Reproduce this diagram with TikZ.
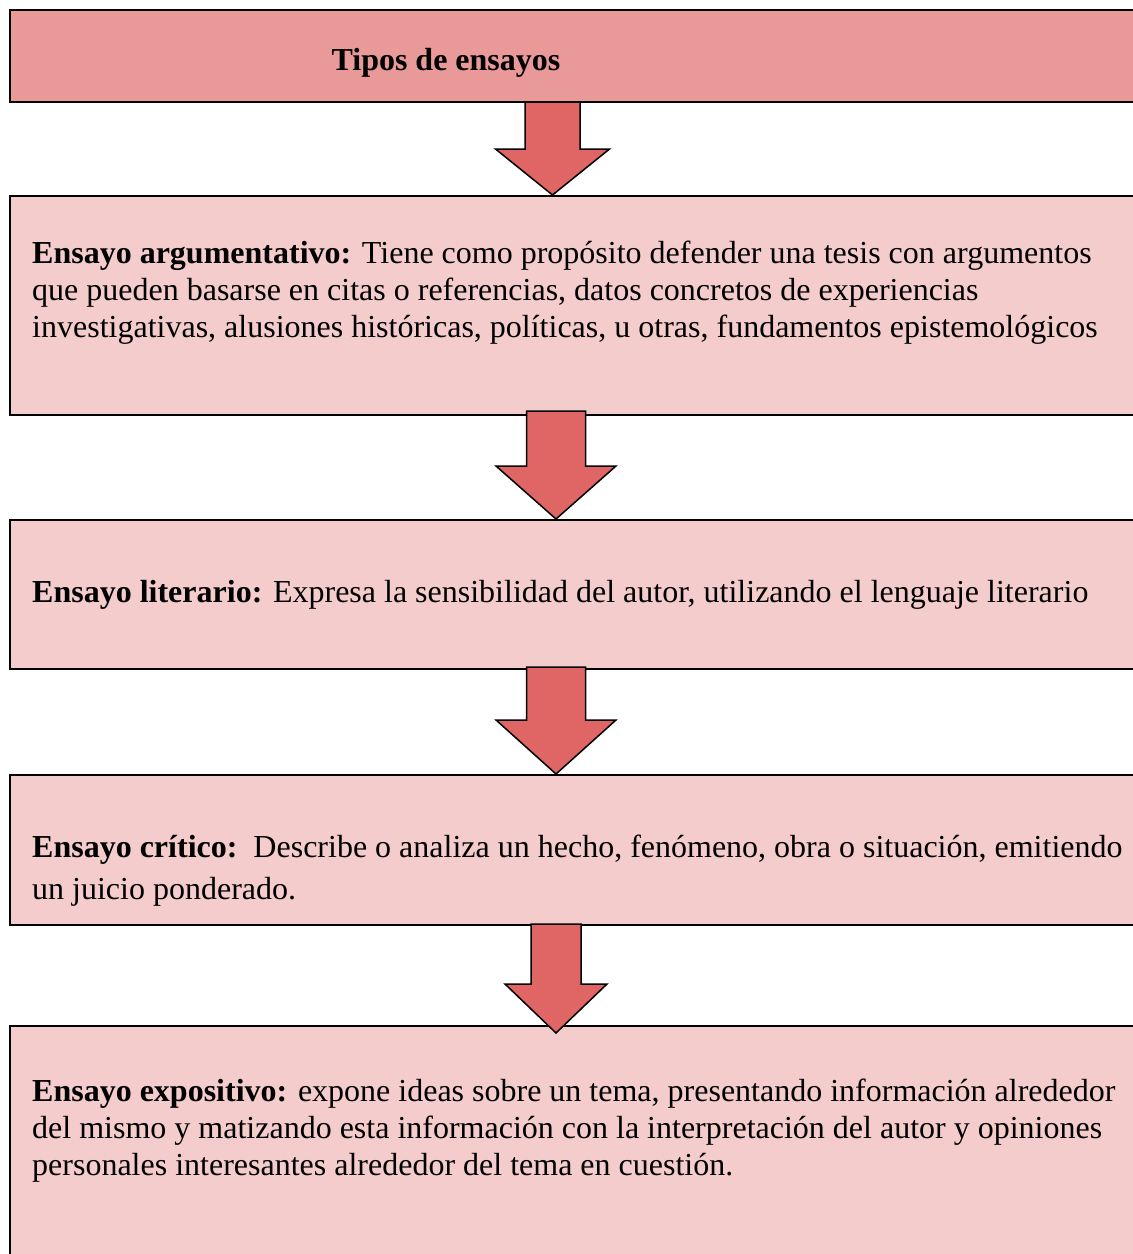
\documentclass[tikz,border=0pt]{standalone}
\usepackage{fontspec}
\setmainfont{Liberation Serif}
\definecolor{titlefill}{HTML}{EA9999}
\definecolor{boxfill}{HTML}{F4CCCC}
\definecolor{arrowfill}{HTML}{E06666}
\newcommand\blockarrow[6]{% cx, ytop, shafthalf, headbase, headhalf, tipy
  \draw[arrowstyle] (#1-#3,#2) -- (#1+#3,#2) -- (#1+#3,#4) -- (#1+#5,#4) -- (#1,#6) -- (#1-#5,#4) -- (#1-#3,#4) -- cycle;}
\tikzset{
  x=1pt, y=-1pt,
  boxstyle/.style={draw=black, line width=1.5pt},
  arrowstyle/.style={draw=black, line width=1.5pt, fill=arrowfill, line join=miter},
  txt/.style={anchor=base west, inner sep=0pt, align=left, font=\fontsize{32}{37}\selectfont},
}
\begin{document}
\begin{tikzpicture}
\clip (0,0) rectangle (1133,1254);
\fill[white] (0,0) rectangle (1133,1254);
% boxes
\draw[boxstyle, fill=titlefill] (10,10) rectangle (1145,102);
\draw[boxstyle, fill=boxfill] (10,196) rectangle (1145,415);
\draw[boxstyle, fill=boxfill] (10,520) rectangle (1145,669);
\draw[boxstyle, fill=boxfill] (10,775) rectangle (1145,925);
\draw[boxstyle, fill=boxfill] (10,1026) rectangle (1145,1270);
% arrows
\blockarrow{552.5}{102}{27.5}{149}{57}{195}
\blockarrow{556}{411}{29.5}{466}{60}{519}
\blockarrow{556}{667}{29.5}{720}{60}{774}
\blockarrow{556}{924}{25}{984}{51}{1033}
% texts (base anchor = baseline of last line)
\node[txt, anchor=base] (title) at (446,70) {\textbf{Tipos de ensayos}};
\node[txt] (t2) at (32,337) {\textbf{Ensayo argumentativo:} Tiene como propósito defender una tesis con argumentos\\que pueden basarse en citas o referencias, datos concretos de experiencias\\investigativas, alusiones históricas, políticas, u otras, fundamentos epistemológicos};
\node[txt] (t3) at (32,602) {\textbf{Ensayo literario:} Expresa la sensibilidad del autor, utilizando el lenguaje literario};
\node[txt, font=\fontsize{32}{42}\selectfont] (t4) at (32,899) {\textbf{Ensayo crítico:}\ \ Describe o analiza un hecho, fenómeno, obra o situación, emitiendo\\un juicio ponderado.};
\node[txt] (t5) at (32,1175) {\textbf{Ensayo expositivo:} expone ideas sobre un tema, presentando información alrededor\\del mismo y matizando esta información con la interpretación del autor y opiniones\\personales interesantes alrededor del tema en cuestión.};
\end{tikzpicture}
\end{document}
